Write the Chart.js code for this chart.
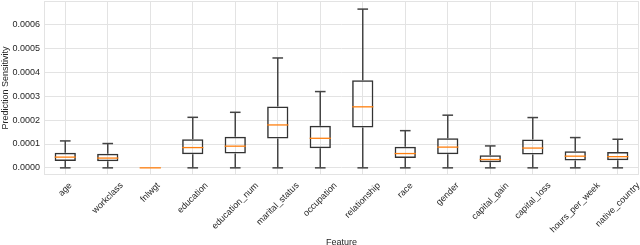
<!DOCTYPE html>
<html>
<head>
<meta charset="utf-8">
<script src="https://cdn.jsdelivr.net/npm/chart.js@4/dist/chart.umd.min.js"></script>
<style>
  html, body { margin: 0; padding: 0; background: #fff; }
  #wrap { width: 640px; height: 245px; }
</style>
</head>
<body>
<div id="wrap"><canvas id="chart"></canvas></div>
<script>
const features = ['age', 'workclass', 'fnlwgt', 'education', 'education_num', 'marital_status',
  'occupation', 'relationship', 'race', 'gender', 'capital_gain', 'capital_loss',
  'hours_per_week', 'native_country'];

// box plot statistics per feature
const whiskerLow  = [0, 0, 0, 0, 0, 0, 0, 0, 0, 0, 0, 0, 0, 0];
const q1          = [0.000029, 0.000028, 0, 0.000057, 0.000060, 0.000123, 0.0000825, 0.000169, 0.000041, 0.000057, 0.000024, 0.000056, 0.000031, 0.000032];
const medians     = [0.000045, 0.000041, 0, 0.000085, 0.000091, 0.000180, 0.000124, 0.000256, 0.000060, 0.000087, 0.000035, 0.000083, 0.000049, 0.000047];
const q3          = [0.000063, 0.000059, 0, 0.000120, 0.000130, 0.000257, 0.000177, 0.000367, 0.000088, 0.000124, 0.000053, 0.000119, 0.000070, 0.000067];
const whiskerHigh = [0.000113, 0.000102, 0, 0.000212, 0.000233, 0.000461, 0.000320, 0.000666, 0.000156, 0.000221, 0.000092, 0.000211, 0.000127, 0.000120];

const yTicks = [0, 0.0001, 0.0002, 0.0003, 0.0004, 0.0005, 0.0006];

const gridColor = '#e3e3e3';
const lineColor = '#333333';
const whiskerColor = '#444444';
const medianColor = '#ff7f0e';
const textColor = '#262626';
const fontFamily = "'Liberation Sans', Arial, sans-serif";
const font = { family: fontFamily, size: 9 };

// axes frame, whiskers, caps, medians and centred 45deg category labels
const boxPlugin = {
    id: 'boxWhiskers',
    beforeDatasetsDraw(chart) {
        const { ctx, chartArea: a } = chart;
        ctx.save();
        ctx.strokeStyle = gridColor;
        ctx.lineWidth = 1;
        ctx.strokeRect(a.left + 0.5, a.top + 0.5, a.right - a.left - 1, a.bottom - a.top - 1);
        ctx.restore();
    },
    afterDatasetsDraw(chart) {
        const ctx = chart.ctx;
        const y = chart.scales.y;
        const meta = chart.getDatasetMeta(0);
        const seg = (x1, y1, x2, y2) => {
            ctx.beginPath();
            ctx.moveTo(x1, y1);
            ctx.lineTo(x2, y2);
            ctx.stroke();
        };
        ctx.save();
        meta.data.forEach((bar, i) => {
            const half = bar.width / 2;
            const cap = half / 2;
            const yLo = y.getPixelForValue(whiskerLow[i]);
            const yQ1 = y.getPixelForValue(q1[i]);
            const yMed = y.getPixelForValue(medians[i]);
            const yQ3 = y.getPixelForValue(q3[i]);
            const yHi = y.getPixelForValue(whiskerHigh[i]);
            ctx.strokeStyle = whiskerColor;
            ctx.lineWidth = 1.5;
            if (whiskerHigh[i] > q3[i]) {
                seg(bar.x, yQ3, bar.x, yHi);
                seg(bar.x - cap, yHi, bar.x + cap, yHi);
            }
            if (q1[i] > whiskerLow[i]) {
                seg(bar.x, yQ1, bar.x, yLo);
                seg(bar.x - cap, yLo, bar.x + cap, yLo);
            }
            ctx.strokeStyle = medianColor;
            ctx.lineWidth = 1.3;
            seg(bar.x - half, yMed, bar.x + half, yMed);
        });
        ctx.restore();
    },
    afterDraw(chart) {
        const ctx = chart.ctx;
        const x = chart.scales.x;
        const top = chart.chartArea.bottom + 6;
        const h = font.size;
        const s = Math.SQRT1_2;
        ctx.save();
        ctx.font = font.size + 'px ' + fontFamily;
        ctx.fillStyle = textColor;
        ctx.textAlign = 'center';
        ctx.textBaseline = 'middle';
        features.forEach((f, i) => {
            const w = ctx.measureText(f).width;
            const boxH = (w + h) * s;
            ctx.save();
            ctx.translate(x.getPixelForTick(i), top + boxH / 2);
            ctx.rotate(-Math.PI / 4);
            ctx.fillText(f, 0, 0);
            ctx.restore();
        });
        ctx.restore();
    }
};

new Chart(document.getElementById('chart'), {
    type: 'bar',
    data: {
        labels: features,
        datasets: [{
            data: features.map((f, i) => [q1[i], q3[i]]),
            backgroundColor: 'rgba(255,255,255,0)',
            borderColor: lineColor,
            borderWidth: 1.5,
            borderSkipped: false,
            barPercentage: 0.5,
            categoryPercentage: 1.0
        }]
    },
    options: {
        responsive: true,
        maintainAspectRatio: false,
        animation: false,
        layout: { padding: { top: 1, right: 1, left: 0, bottom: 0 } },
        plugins: {
            legend: { display: false },
            tooltip: { enabled: false }
        },
        scales: {
            x: {
                grid: { color: gridColor, offset: false, drawTicks: false },
                border: { display: false },
                ticks: { display: false },
                title: {
                    display: true,
                    text: 'Feature',
                    font: font,
                    color: textColor,
                    padding: { top: 0, bottom: -3 }
                },
                afterFit(scale) {
                    scale.height = 70;
                    scale.paddingLeft = 0;
                    scale.paddingRight = 0;
                }
            },
            y: {
                min: -0.00003,
                max: 0.0007,
                grid: { color: gridColor, drawTicks: false },
                border: { display: false },
                afterBuildTicks(scale) {
                    scale.ticks = yTicks.map(v => ({ value: v }));
                },
                ticks: {
                    font: font,
                    color: textColor,
                    padding: 4,
                    callback: v => v.toFixed(4)
                },
                title: {
                    display: true,
                    text: 'Prediction Sensitivity',
                    font: font,
                    color: textColor,
                    padding: { top: 0, bottom: 0 }
                },
                afterFit(scale) {
                    scale.width = 44;
                    scale.paddingTop = 0;
                    scale.paddingBottom = 0;
                }
            }
        }
    },
    plugins: [boxPlugin]
});
</script>
</body>
</html>
